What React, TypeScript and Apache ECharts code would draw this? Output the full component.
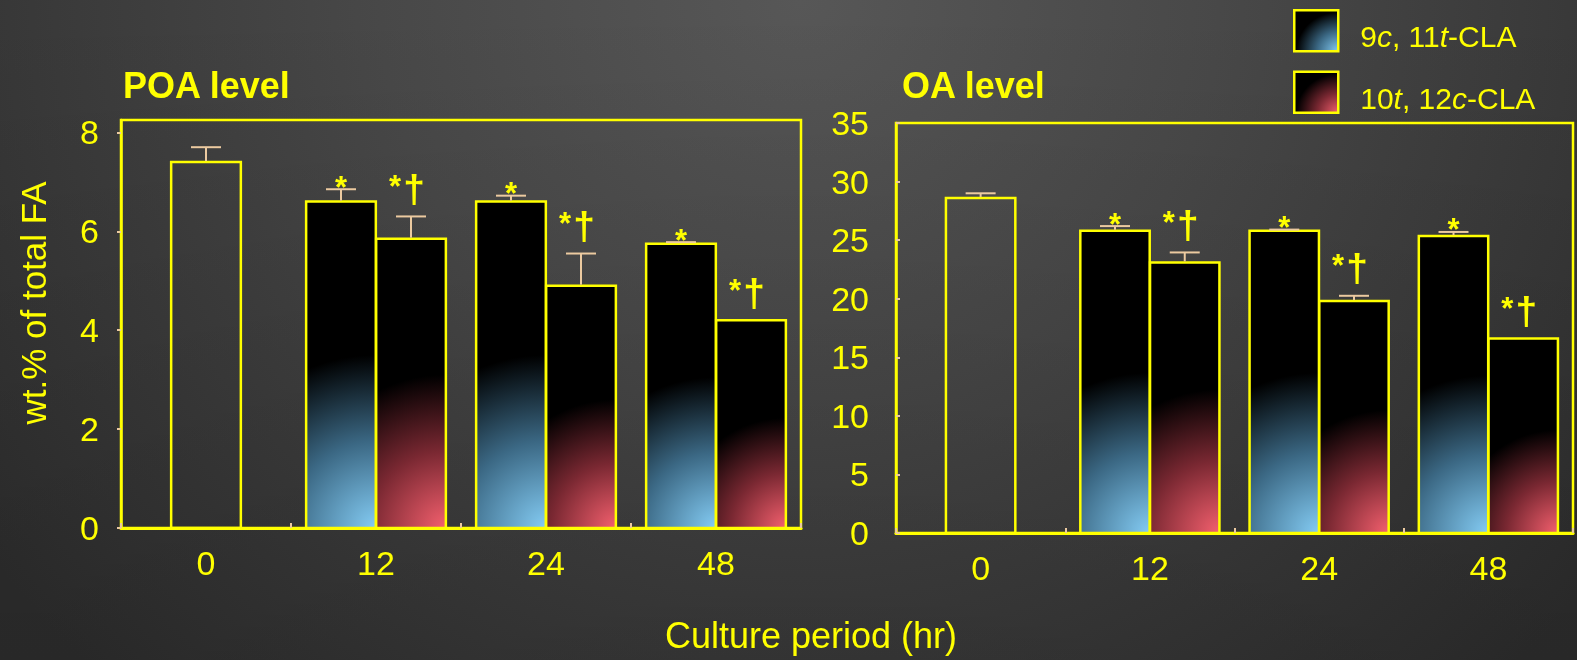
import React, { useEffect, useRef } from "react";
import * as echarts from "echarts";

// Culture period categories (hr)
const periods = ["0", "12", "24", "48"];

// POA level, wt.% of total FA (mean and upper SD whisker)
const poaControl = [7.4, null, null, null];
const poaControlSd = [0.3, null, null, null];
const poaCla911 = [null, 6.6, 6.6, 5.75];
const poaCla911Sd = [null, 0.25, 0.12, 0.03];
const poaCla1012 = [null, 5.85, 4.9, 4.2];
const poaCla1012Sd = [null, 0.45, 0.65, 0];

// OA level, wt.% of total FA
const oaControl = [28.6, null, null, null];
const oaControlSd = [0.4, null, null, null];
const oaCla911 = [null, 25.8, 25.8, 25.35];
const oaCla911Sd = [null, 0.4, 0.1, 0.35];
const oaCla1012 = [null, 23.1, 19.8, 16.6];
const oaCla1012Sd = [null, 0.85, 0.45, 0];

// Significance marks: * vs. 0 hr, † vs. 9c,11t-CLA
const cla911Marks = ["", "*", "*", "*"];
const cla1012Marks = ["", "*†", "*†", "*†"];

const CLA911 = "9c, 11t-CLA";
const CLA1012 = "10t, 12c-CLA";

const YELLOW = "#ffff00";
const TAN = "#eccaa0";
const FONT = "'Liberation Sans', Arial, Helvetica, sans-serif";

const blueStops = [
  { offset: 0, color: "#84ccf4" },
  { offset: 0.5, color: "#3b6884" },
  { offset: 1, color: "#000000" },
];
const redStops = [
  { offset: 0, color: "#f4606e" },
  { offset: 0.5, color: "#7a2832" },
  { offset: 1, color: "#000000" },
];

type Kind = "control" | "c911" | "c1012";

function toData(values: (number | null)[], sds: (number | null)[]) {
  const out: number[][] = [];
  values.forEach((v, i) => {
    if (v != null) out.push([i, v, sds[i] ?? 0]);
  });
  return out;
}

function markText(text: string, x: number, y: number, fontSize: number) {
  return {
    type: "text",
    x,
    y,
    style: {
      text,
      fill: YELLOW,
      fontSize,
      fontWeight: "bold",
      fontFamily: FONT,
      align: "center",
      verticalAlign: "middle",
    },
  };
}

function barRenderer(kind: Kind, marks: string[]) {
  const offset = kind === "control" ? 0 : kind === "c911" ? -0.206 : 0.206;
  return (params: any, api: any) => {
    const ci = api.value(0);
    const v = api.value(1);
    const sd = api.value(2);
    const band = api.size([1, 0])[0];
    const w = band * 0.41;
    const base = api.coord([ci, 0]);
    const top = api.coord([ci, v]);
    const errTop = api.coord([ci, v + sd]);
    const cx = base[0] + offset * band;
    const x0 = cx - w / 2;
    const h = base[1] - top[1];
    const fill =
      kind === "control"
        ? "rgba(0,0,0,0)"
        : new echarts.graphic.RadialGradient(
            x0 + w,
            base[1],
            h * 0.53,
            kind === "c911" ? blueStops : redStops,
            true
          );
    const children: any[] = [
      {
        type: "rect",
        shape: { x: x0, y: top[1], width: w, height: h },
        style: { fill, stroke: YELLOW, lineWidth: 2.5 },
      },
    ];
    if (sd > 0) {
      children.push(
        {
          type: "line",
          shape: { x1: cx, y1: top[1] - 1, x2: cx, y2: errTop[1] },
          style: { stroke: TAN, lineWidth: 2 },
        },
        {
          type: "line",
          shape: { x1: cx - 15, y1: errTop[1], x2: cx + 15, y2: errTop[1] },
          style: { stroke: TAN, lineWidth: 2 },
        }
      );
    }
    const mark = marks[ci] || "";
    const yRef = errTop[1];
    if (mark === "*") {
      children.push(markText("*", cx, yRef - 2, 31));
    } else if (mark === "*†") {
      children.push(markText("*", cx - 16, yRef - 30, 31), markText("†", cx + 3, yRef - 28, 39));
    }
    return { type: "group", children };
  };
}

function panelSeries(
  idx: number,
  control: (number | null)[],
  controlSd: (number | null)[],
  c911: (number | null)[],
  c911Sd: (number | null)[],
  c1012: (number | null)[],
  c1012Sd: (number | null)[]
) {
  const common = {
    type: "custom",
    xAxisIndex: idx,
    yAxisIndex: idx,
    encode: { x: 0, y: 1 },
  };
  return [
    {
      ...common,
      name: "0 hr",
      data: toData(control, controlSd),
      renderItem: barRenderer("control", []),
    },
    {
      ...common,
      name: CLA911,
      itemStyle: { color: new echarts.graphic.RadialGradient(1, 1, 0.95, blueStops) },
      data: toData(c911, c911Sd),
      renderItem: barRenderer("c911", cla911Marks),
    },
    {
      ...common,
      name: CLA1012,
      itemStyle: { color: new echarts.graphic.RadialGradient(1, 1, 0.95, redStops) },
      data: toData(c1012, c1012Sd),
      renderItem: barRenderer("c1012", cla1012Marks),
    },
  ];
}

function xAxisFor(gridIndex: number) {
  return {
    type: "category",
    gridIndex,
    data: periods,
    boundaryGap: true,
    axisLine: { show: true, lineStyle: { color: YELLOW, width: 3 } },
    axisTick: { show: true, inside: true, length: 5, lineStyle: { color: TAN, width: 2 } },
    axisLabel: { color: YELLOW, fontSize: 34, fontFamily: FONT, margin: 18 },
    splitLine: { show: false },
  };
}

function yAxisFor(gridIndex: number, max: number, interval: number, tickInside: boolean, margin: number) {
  return {
    type: "value",
    gridIndex,
    min: 0,
    max,
    interval,
    axisLine: { show: true, lineStyle: { color: YELLOW, width: 2.5 } },
    axisTick: { show: true, inside: tickInside, length: 4, lineStyle: { color: TAN, width: 2 } },
    axisLabel: {
      color: YELLOW,
      fontSize: 34,
      fontFamily: FONT,
      margin,
      showMaxLabel: max % interval === 0,
      formatter: (val: number) => (val % interval === 0 ? String(val) : ""),
    },
    splitLine: { show: false },
  };
}

export default function App() {
  const ref = useRef<HTMLDivElement>(null);

  useEffect(() => {
    if (!ref.current) return;
    const chart = echarts.init(ref.current, null, { renderer: "svg" });
    const legendText: Record<string, string> = {
      [CLA911]: "9{i|c}, 11{i|t}-CLA",
      [CLA1012]: "10{i|t}, 12{i|c}-CLA",
    };
    chart.setOption({
      animation: false,
      backgroundColor: "transparent",
      title: [
        {
          text: "POA level",
          left: 123,
          top: 67,
          padding: 0,
          textStyle: { color: YELLOW, fontSize: 36, fontWeight: "bold", fontFamily: FONT },
        },
        {
          text: "OA level",
          left: 902,
          top: 67,
          padding: 0,
          textStyle: { color: YELLOW, fontSize: 36, fontWeight: "bold", fontFamily: FONT },
        },
      ],
      legend: {
        data: [CLA911, CLA1012],
        orient: "vertical",
        left: 1293,
        top: 9,
        padding: 0,
        itemWidth: 44,
        itemHeight: 41,
        itemGap: 18,
        icon: "rect",
        selectedMode: false,
        itemStyle: { borderColor: YELLOW, borderWidth: 2.5 },
        formatter: (name: string) => legendText[name] || name,
        textStyle: {
          color: YELLOW,
          fontSize: 30,
          fontFamily: FONT,
          padding: [12, 0, 0, 17],
          rich: {
            i: { color: YELLOW, fontSize: 30, fontFamily: FONT, fontStyle: "italic" },
          },
        },
      },
      grid: [
        {
          left: 121,
          top: 120,
          width: 680,
          height: 408,
          show: true,
          borderColor: YELLOW,
          borderWidth: 2.5,
          backgroundColor: "transparent",
        },
        {
          left: 896,
          top: 123,
          width: 677,
          height: 410,
          show: true,
          borderColor: YELLOW,
          borderWidth: 2.5,
          backgroundColor: "transparent",
        },
      ],
      xAxis: [xAxisFor(0), xAxisFor(1)],
      yAxis: [yAxisFor(0, 8.25, 2, false, 22), yAxisFor(1, 35, 5, true, 27)],
      series: [
        ...panelSeries(0, poaControl, poaControlSd, poaCla911, poaCla911Sd, poaCla1012, poaCla1012Sd),
        ...panelSeries(1, oaControl, oaControlSd, oaCla911, oaCla911Sd, oaCla1012, oaCla1012Sd),
      ],
      graphic: [
        {
          type: "text",
          x: 33,
          y: 303,
          rotation: Math.PI / 2,
          style: {
            text: "wt.% of total FA",
            fill: YELLOW,
            fontSize: 35,
            fontFamily: FONT,
            align: "center",
            verticalAlign: "middle",
          },
        },
        {
          type: "text",
          x: 811,
          y: 635,
          style: {
            text: "Culture period (hr)",
            fill: YELLOW,
            fontSize: 36,
            fontFamily: FONT,
            align: "center",
            verticalAlign: "middle",
          },
        },
      ],
    });
    return () => chart.dispose();
  }, []);

  return (
    <div
      style={{
        position: "fixed",
        left: 0,
        top: 0,
        width: 1577,
        height: 660,
        background:
          "linear-gradient(to bottom, rgba(0,0,0,0) 0%, rgba(0,0,0,0.15) 100%), radial-gradient(ellipse 1000px 950px at 800px 0px, #575757 0%, #484848 42%, #2f2f2f 100%)",
      }}
    >
      <div ref={ref} style={{ width: 1577, height: 660 }} />
    </div>
  );
}
